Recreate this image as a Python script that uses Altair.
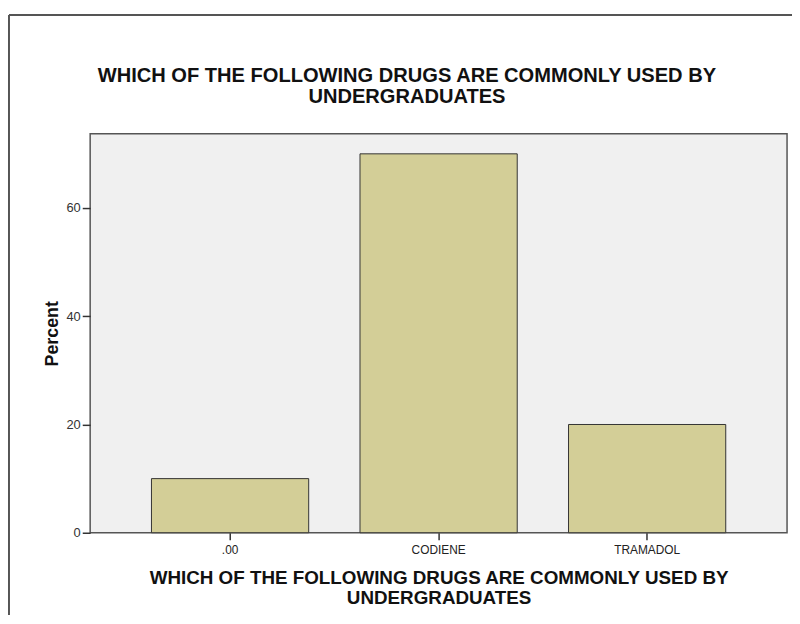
import altair as alt
import pandas as pd

categories = [".00", "CODIENE", "TRAMADOL"]
percents = [10, 70, 20]
y_ticks = [0, 20, 40, 60]
title_lines = ["WHICH OF THE FOLLOWING DRUGS ARE COMMONLY USED BY", "UNDERGRADUATES"]

df = pd.DataFrame({"drug": categories, "percent": percents})

W, H = 704, 403

bars = alt.Chart(df).mark_bar(
    color="#D3CE97", stroke="#333333", strokeWidth=1
).encode(
    x=alt.X("drug:N", sort=categories,
            scale=alt.Scale(paddingInner=0.246, paddingOuter=0.294),
            axis=alt.Axis(title=title_lines, labelAngle=0, labelFontSize=12,
                          labelColor="#222222", labelFont="Liberation Sans",
                          tickSize=7, tickColor="#333333", tickWidth=1.5,
                          labelPadding=5, domain=False,
                          titleFont="Liberation Sans", titleFontSize=19,
                          titleFontWeight="bold", titleColor="#111111",
                          titleLineHeight=20.5, titleBaseline="alphabetic",
                          titleAnchor="middle", titleX=W / 2, titleY=51)),
    y=alt.Y("percent:Q",
            scale=alt.Scale(domain=[0, 73.7], nice=False),
            axis=alt.Axis(title="Percent", values=y_ticks, grid=False,
                          labelFontSize=13, labelColor="#333333",
                          labelFont="Liberation Sans",
                          tickSize=8, tickColor="#333333", tickWidth=1.5,
                          labelPadding=2, domain=False,
                          titleFont="Liberation Sans", titleFontSize=18,
                          titleFontWeight="bold", titleColor="#111111",
                          titleBaseline="alphabetic", titleAlign="center",
                          titleAngle=270, titleX=-33, titleY=H / 2)),
)

frame_data = alt.Data(values=[{}])
left_line = alt.Chart(frame_data).mark_rule(color="#555555", strokeWidth=2).encode(
    x=alt.value(-82), y=alt.value(-120), y2=alt.value(H + 100)
)
top_line = alt.Chart(frame_data).mark_rule(color="#555555", strokeWidth=2).encode(
    x=alt.value(-82), x2=alt.value(W + 100), y=alt.value(-120)
)
title_text = alt.Chart(frame_data).mark_text(
    font="Liberation Sans", fontSize=20.3, fontWeight="bold", color="#111111",
    align="center", baseline="alphabetic", lineHeight=20.5
).encode(
    x=alt.value(W / 2 - 32), y=alt.value(-52), text=alt.value(title_lines)
)

chart = alt.layer(left_line, top_line, title_text, bars).properties(
    width=W, height=H,
    autosize=alt.AutoSizeParams(type="none"),
    padding={"left": 83, "top": 124, "right": 5, "bottom": 80},
    background="white",
).configure_view(
    fill="#F0F0F0", stroke="#555555", strokeWidth=1.5
)

chart.save("out.html", embed_options={"renderer": "svg", "actions": False})
